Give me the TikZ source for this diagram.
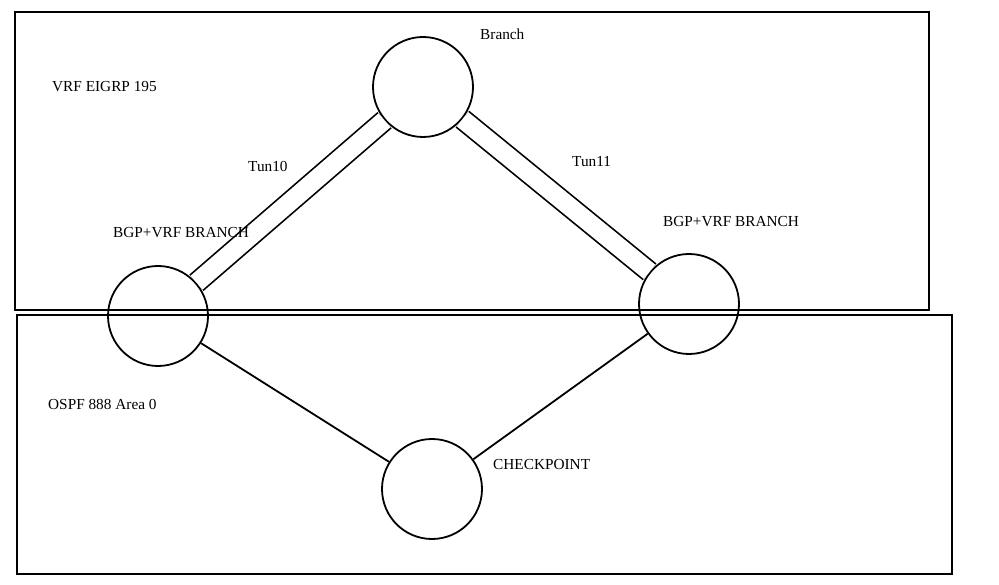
\documentclass[tikz,border=0pt]{standalone}
\usepackage{fontspec}
\setmainfont{Liberation Serif}
\begin{document}
\begin{tikzpicture}[x=1pt,y=-1pt,
  router/.style={circle, draw, line width=1.8pt, minimum size=100pt, inner sep=0pt},
  zone/.style={draw, line width=2.2pt, inner sep=0pt, anchor=north west},
  lbl/.style={font=\fontsize{15.3}{18}\selectfont, anchor=base west, inner sep=0pt},
  tunnel/.style={double, double distance=18.3pt, line width=1.7pt},
  link/.style={line width=1.8pt}]
\useasboundingbox (0,0) rectangle (999,585);
% zones
\node[zone, minimum width=914pt, minimum height=298pt] (vrfzone) at (14,11) {};
\node[zone, minimum width=935pt, minimum height=259pt] (ospfzone) at (16,314) {};
% routers
\node[router] (branch) at (423,87) {};
\node[router] (bgpl) at (158,316) {};
\node[router] (bgpr) at (689,304) {};
\node[router] (cp) at (432,489) {};
% connectors
\draw[tunnel] (bgpl) -- (branch);
\draw[tunnel] (branch) -- (bgpr);
\draw[link] (bgpl) -- (cp);
\draw[link] (bgpr) -- (cp);
% labels
\node[lbl] (lbranch) at (480,40) {Branch};
\node[lbl] (lvrf) at (52,92) {VRF EIGRP 195};
\node[lbl] (ltun10) at (248,172) {Tun10};
\node[lbl] (lbgpl) at (113,238) {BGP+VRF BRANCH};
\node[lbl] (ltun11) at (572,167) {Tun11};
\node[lbl] (lbgpr) at (663,227) {BGP+VRF BRANCH};
\node[lbl] (lospf) at (48,409) {OSPF 888 Area 0};
\node[lbl] (lcp) at (493,469) {CHECKPOINT};
\end{tikzpicture}
\end{document}
